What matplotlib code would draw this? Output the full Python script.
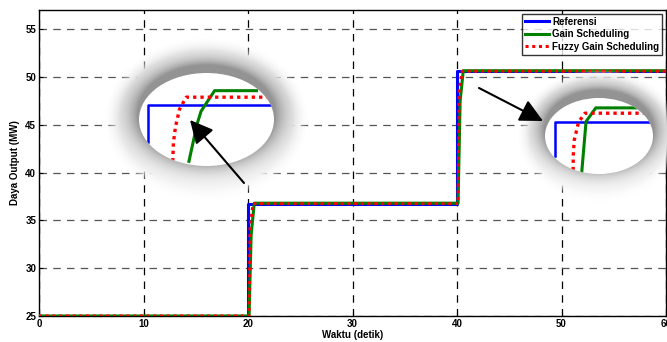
import numpy as np
import matplotlib
matplotlib.use("Agg")
import matplotlib.pyplot as plt
from matplotlib.patches import Ellipse

plt.rcParams['font.family'] = ['Liberation Sans', 'DejaVu Sans']
plt.rcParams['font.weight'] = 'bold'

W, H = 667, 342

# main response data (time in s, power in MW)
t_ref = [0, 20, 20, 40, 40, 60]
p_ref = [25, 25, 36.75, 36.75, 50.6, 50.6]
t_gs = [0, 20.1, 20.3, 20.6, 40.1, 40.3, 40.6, 60]
p_gs = [25, 25, 33.5, 36.8, 36.8, 47.5, 50.65, 50.65]
t_fgs = [0, 20.1, 20.2, 20.5, 40.1, 40.2, 40.5, 60]
p_fgs = [25, 25, 34.5, 36.75, 36.75, 48.5, 50.6, 50.6]

xticks = [0, 10, 20, 30, 40, 50, 60]
yticks = [25, 30, 35, 40, 45, 50, 55]
labels = ["Referensi", "Gain Scheduling", "Fuzzy Gain Scheduling"]

# zoomed views inside the ellipses (normalised inset coordinates)
zoom1_ref_x = [0.067, 0.067, 1.0]
zoom1_ref_y = [0.26, 0.66, 0.66]
zoom1_fgs_x = [0.25, 0.255, 0.27, 0.30, 0.35, 1.0]
zoom1_fgs_y = [0.05, 0.25, 0.42, 0.61, 0.74, 0.74]
zoom1_gs_x = [0.37, 0.43, 0.46, 0.56, 0.87]
zoom1_gs_y = [0.05, 0.45, 0.59, 0.81, 0.81]

zoom2_ref_x = [0.093, 0.093, 1.0]
zoom2_ref_y = [0.24, 0.69, 0.69]
zoom2_fgs_x = [0.26, 0.262, 0.27, 0.31, 0.37, 1.0]
zoom2_fgs_y = [0.05, 0.25, 0.44, 0.68, 0.80, 0.80]
zoom2_gs_x = [0.34, 0.38, 0.47, 0.84]
zoom2_gs_y = [0.02, 0.69, 0.87, 0.87]

# ellipse boxes in pixels: x0, y0, width, height
ell1 = (139, 73, 135, 93)
ell2 = (545, 98, 108, 76)
# arrows in pixels: tail, tip
arrow1 = ((244, 183), (190, 120))
arrow2 = ((479, 88), (543, 121))

fig = plt.figure(figsize=(W / 100, H / 100), dpi=100)
ax = fig.add_axes([39 / W, (H - 316) / H, 627 / W, 306 / H])

ax.plot(t_ref, p_ref, color="#0000ff", lw=2.2, label=labels[0], zorder=3)
ax.plot(t_gs, p_gs, color="#008000", lw=2.2, label=labels[1], zorder=4)
ax.plot(t_fgs, p_fgs, color="#ff0000", lw=2.2, ls=(0, (1, 1.2)), label=labels[2], zorder=5)

ax.set_xlim(0, 60)
ax.set_ylim(25, 57)
ax.set_xticks(xticks)
ax.set_yticks(yticks)
ax.tick_params(direction="in", length=3, labelsize=7, pad=2)
for lbl in ax.get_xticklabels() + ax.get_yticklabels():
    lbl.set_fontweight("bold")
ax.xaxis.grid(True, color="black", ls=(0, (6, 5)), lw=0.9)
ax.yaxis.grid(True, color="#555555", ls=(0, (6, 5)), lw=0.9)
ax.set_xlabel("Waktu (detik)", fontsize=7, fontweight="bold", labelpad=1)
ax.set_ylabel("Daya Output (MW)", fontsize=7, fontweight="bold", labelpad=4)
for s in ax.spines.values():
    s.set_linewidth(1.0)

leg = ax.legend(loc="upper right", fontsize=7, frameon=True, fancybox=False,
                borderpad=0.3, handlelength=2.4, labelspacing=0.25,
                handletextpad=0.35, borderaxespad=0.3, bbox_to_anchor=(0.9985, 0.997))
leg.get_frame().set_edgecolor("black")
leg.get_frame().set_linewidth(1.0)
for txt in leg.get_texts():
    txt.set_fontweight("bold")

# overlay in pixel coordinates for the glow behind each ellipse
ov = fig.add_axes([0, 0, 1, 1], zorder=5)
ov.axis("off")
ov.patch.set_alpha(0)


def glow(box):
    x0, y0, w, h = box
    cx, cy = x0 + w / 2, y0 + h / 2
    a, b = w / 2, h / 2
    sx, sy = 1.5, 1.75
    xs = np.linspace(cx - sx * a, cx + sx * a, 300)
    ys = np.linspace(cy - sy * b, cy + sy * b, 240)
    X, Y = np.meshgrid(xs, ys)
    # outer white halo
    ro = np.sqrt(((X - cx) / (sx * a)) ** 2 + ((Y - cy) / (sy * b)) ** 2)
    alpha = np.clip((1 - ro) / 0.15, 0, 1)
    # grey shadow, shifted upward
    rs = np.sqrt(((X - cx) / (a * 1.02)) ** 2 + ((Y - cy + 6) / (b * 1.05)) ** 2)
    d = np.clip(rs - 1, 0, None)
    g = 1 - 0.42 * np.exp(-d / 0.22)
    img = np.zeros(X.shape + (4,))
    img[..., 0] = g
    img[..., 1] = g
    img[..., 2] = g
    img[..., 3] = alpha
    ov.imshow(img, extent=(xs[0], xs[-1], ys[-1], ys[0]), interpolation="bilinear", zorder=1)


glow(ell1)
glow(ell2)
ov.set_xlim(0, W)
ov.set_ylim(H, 0)
ov.set_aspect("auto")


def inset(box, rx, ry, gx, gy, fx, fy):
    x0, y0, w, h = box
    ia = fig.add_axes([x0 / W, (H - y0 - h) / H, w / W, h / H], zorder=6)
    ia.set_xlim(0, 1)
    ia.set_ylim(0, 1)
    ia.axis("off")
    ia.patch.set_alpha(0)
    e = Ellipse((0.5, 0.5), 1, 1, transform=ia.transAxes, facecolor="white",
                edgecolor="none")
    ia.add_patch(e)
    l1, = ia.plot(rx, ry, color="#0000ff", lw=1.8)
    l2, = ia.plot(gx, gy, color="#008000", lw=2.2)
    l3, = ia.plot(fx, fy, color="#ff0000", lw=2.4, ls=(0, (1, 1.2)))
    for ln in (l1, l2, l3):
        ln.set_clip_path(e)


inset(ell1, zoom1_ref_x, zoom1_ref_y, zoom1_gs_x, zoom1_gs_y, zoom1_fgs_x, zoom1_fgs_y)
inset(ell2, zoom2_ref_x, zoom2_ref_y, zoom2_gs_x, zoom2_gs_y, zoom2_fgs_x, zoom2_fgs_y)

# arrows on top of everything
ar = fig.add_axes([0, 0, 1, 1], zorder=7)
ar.set_xlim(0, W)
ar.set_ylim(H, 0)
ar.axis("off")
ar.patch.set_alpha(0)
for tail, tip in (arrow1, arrow2):
    ar.annotate("", xy=tip, xytext=tail,
                arrowprops=dict(arrowstyle="-|>,head_length=1.4,head_width=0.7",
                                color="black", lw=1.5, shrinkA=0, shrinkB=0))

fig.savefig("out.png", dpi=100)
